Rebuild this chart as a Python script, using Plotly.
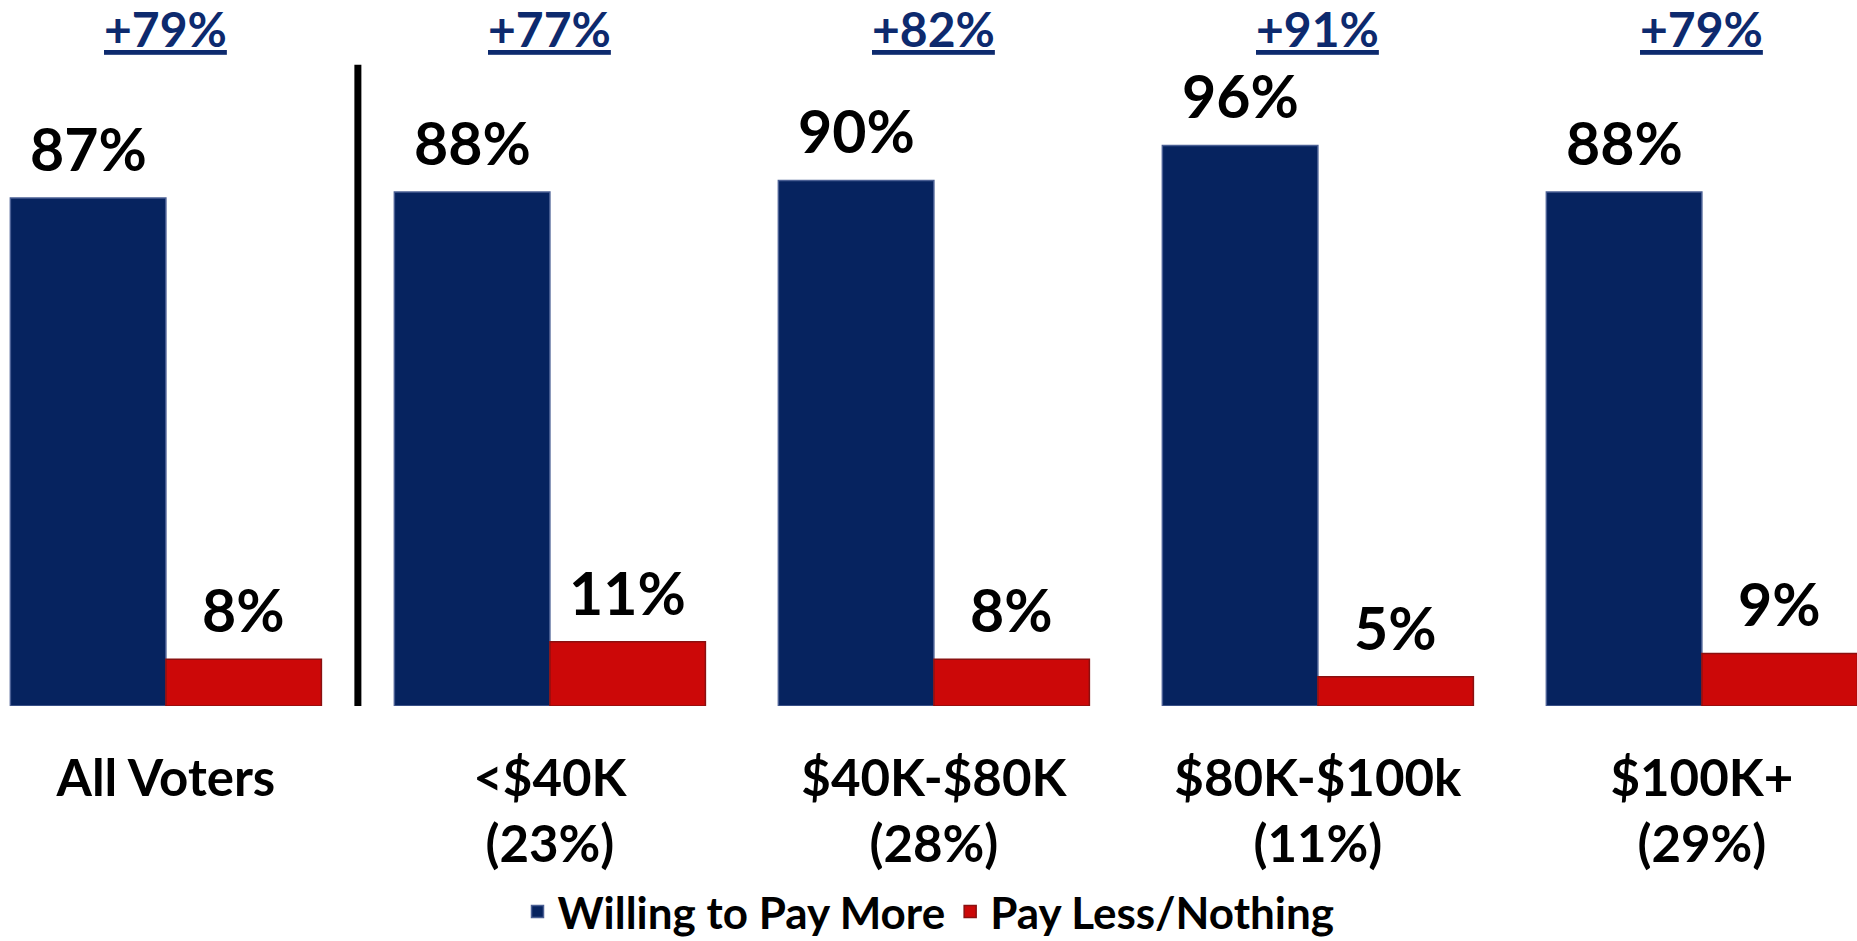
import plotly.graph_objects as go

categories = ["All Voters", "&lt;$40K<br>(23%)", "$40K-$80K<br>(28%)", "$80K-$100k<br>(11%)", "$100K+<br>(29%)"]
willing_more = [87, 88, 90, 96, 88]
pay_less = [8, 11, 8, 5, 9]
series_names = ["Willing to Pay More", "Pay Less/Nothing"]

NAVY = "#06235f"
RED = "#cc0808"
FONT = "Lato"
bargap = 0.19

fig = go.Figure()
fig.add_trace(go.Bar(x=list(range(len(categories))), y=willing_more, name=series_names[0],
                     marker=dict(color=NAVY, line=dict(color="#4a5f94", width=1.5))))
fig.add_trace(go.Bar(x=list(range(len(categories))), y=pay_less, name=series_names[1],
                     marker=dict(color=RED, line=dict(color="#8a1010", width=1.5))))

half = (1 - bargap) / 4
annotations = []
for i, (b, r) in enumerate(zip(willing_more, pay_less)):
    annotations.append(dict(x=i - half, y=b, xref="x", yref="y", text=f"<b>{b}%</b>",
                            showarrow=False, yanchor="bottom", yshift=12,
                            font=dict(family=FONT, size=59, color="black")))
    annotations.append(dict(x=i + half, y=r, xref="x", yref="y", text=f"<b>{r}%</b>",
                            showarrow=False, yanchor="bottom", yshift=12,
                            font=dict(family=FONT, size=59, color="black")))
    annotations.append(dict(x=i, y=0.96, xref="x", yref="paper", text=f"<b><u>+{b - r}%</u></b>",
                            showarrow=False, yanchor="middle",
                            font=dict(family=FONT, size=48, color="#0d2a6e")))

fig.add_shape(type="line", x0=0.5, x1=0.5, xref="x", y0=-13.5, y1=109.8, yref="y",
              line=dict(color="black", width=7))

fig.update_layout(
    width=1857, height=941,
    margin=dict(l=0, r=0, t=0, b=235),
    paper_bgcolor="white", plot_bgcolor="white",
    barmode="group", bargap=bargap, bargroupgap=0,
    font=dict(family=FONT, color="black"),
    annotations=annotations,
    showlegend=True,
    legend=dict(orientation="h", x=0.5, xanchor="center", yref="container", y=0.031, yanchor="middle",
                font=dict(family=FONT, size=44, color="black", weight="bold"),
                traceorder="normal", itemwidth=30),
    xaxis=dict(range=[-0.432, 4.404], tickmode="array", tickvals=list(range(len(categories))),
               ticktext=[f"<b>{c}</b>" for c in categories], showgrid=False, zeroline=False,
               showline=False, ticks="", ticklabelstandoff=38,
               tickfont=dict(family=FONT, size=51, color="black")),
    yaxis=dict(range=[0, 120.9], visible=False, showgrid=False, zeroline=False),
)

fig.write_html("out.html", config={"displayModeBar": False},
               post_script="document.body.style.margin='0';")
